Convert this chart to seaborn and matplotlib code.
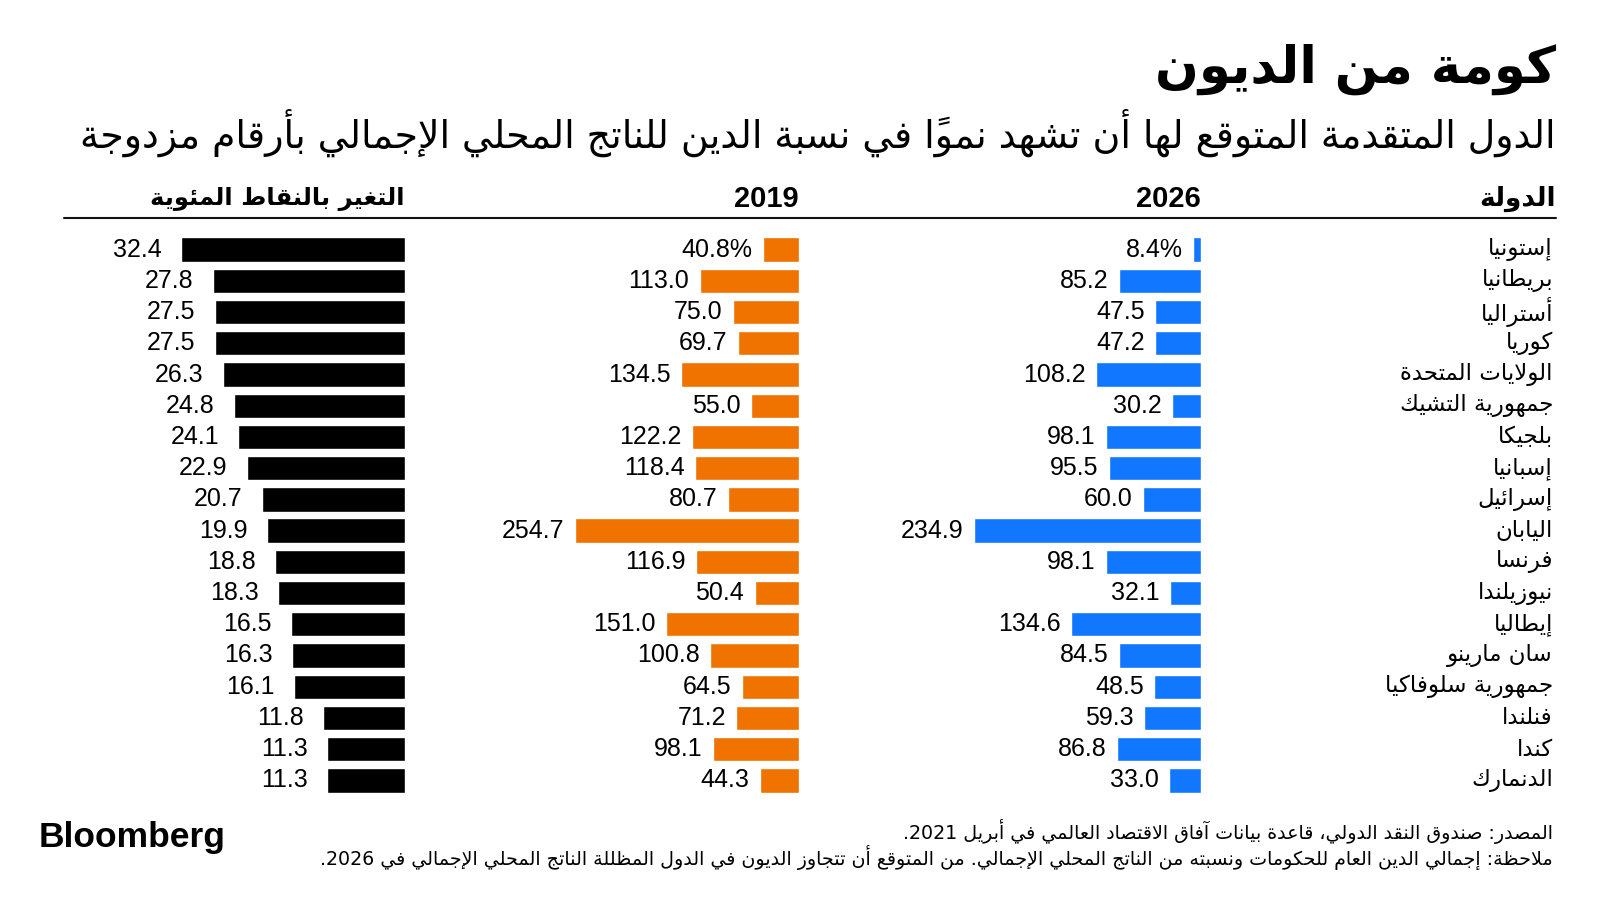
import re
import numpy as np
import pandas as pd
import seaborn as sns
import matplotlib.pyplot as plt
import matplotlib.transforms as mtransforms
from matplotlib.lines import Line2D

title = 'كومة من الديون'
subtitle = 'الدول المتقدمة المتوقع لها أن تشهد نمواً في نسبة الدين للناتج المحلي الإجمالي بأرقام مزدوجة'
headers = ['الدولة', '2026', '2019', 'التغير بالنقاط المئوية']
countries = ['إستونيا', 'بريطانيا', 'أستراليا', 'كوريا', 'الولايات المتحدة', 'جمهورية التشيك',
             'بلجيكا', 'إسبانيا', 'إسرائيل', 'اليابان', 'فرنسا', 'نيوزيلندا', 'إيطاليا',
             'سان مارينو', 'جمهورية سلوفاكيا', 'فنلندا', 'كندا', 'الدنمارك']
debt_2026 = [8.4, 85.2, 47.5, 47.2, 108.2, 30.2, 98.1, 95.5, 60.0, 234.9, 98.1, 32.1, 134.6, 84.5, 48.5, 59.3, 86.8, 33.0]
debt_2019 = [40.8, 113.0, 75.0, 69.7, 134.5, 55.0, 122.2, 118.4, 80.7, 254.7, 116.9, 50.4, 151.0, 100.8, 64.5, 71.2, 98.1, 44.3]
change = [32.4, 27.8, 27.5, 27.5, 26.3, 24.8, 24.1, 22.9, 20.7, 19.9, 18.8, 18.3, 16.5, 16.3, 16.1, 11.8, 11.3, 11.3]
source = 'المصدر: صندوق النقد الدولي، قاعدة بيانات آفاق الاقتصاد العالمي في أبريل 2021.'
note = 'ملاحظة: إجمالي الدين العام للحكومات ونسبته من الناتج المحلي الإجمالي. من المتوقع أن تتجاوز الديون في الدول المظللة الناتج المحلي الإجمالي في 2026.'

# --- minimal arabic shaping (matplotlib has no text shaping) ---
letters = [('ء', 0xFE80, 1), ('آ', 0xFE81, 2), ('أ', 0xFE83, 2), ('ؤ', 0xFE85, 2), ('إ', 0xFE87, 2),
           ('ئ', 0xFE89, 4), ('ا', 0xFE8D, 2), ('ب', 0xFE8F, 4), ('ة', 0xFE93, 2), ('ت', 0xFE95, 4),
           ('ث', 0xFE99, 4), ('ج', 0xFE9D, 4), ('ح', 0xFEA1, 4), ('خ', 0xFEA5, 4), ('د', 0xFEA9, 2),
           ('ذ', 0xFEAB, 2), ('ر', 0xFEAD, 2), ('ز', 0xFEAF, 2), ('س', 0xFEB1, 4), ('ش', 0xFEB5, 4),
           ('ص', 0xFEB9, 4), ('ض', 0xFEBD, 4), ('ط', 0xFEC1, 4), ('ظ', 0xFEC5, 4), ('ع', 0xFEC9, 4),
           ('غ', 0xFECD, 4), ('ف', 0xFED1, 4), ('ق', 0xFED5, 4), ('ك', 0xFED9, 4), ('ل', 0xFEDD, 4),
           ('م', 0xFEE1, 4), ('ن', 0xFEE5, 4), ('ه', 0xFEE9, 4), ('و', 0xFEED, 2), ('ى', 0xFEEF, 2),
           ('ي', 0xFEF1, 4)]
forms = {c: (b, n) for c, b, n in letters}
lam_alef = {'آ': 0xFEF5, 'أ': 0xFEF7, 'إ': 0xFEF9, 'ا': 0xFEFB}


def is_mark(u):
    return isinstance(u, str) and '\u064B' <= u <= '\u065F'


def ar(s):
    units = []
    i = 0
    while i < len(s):
        c = s[i]
        if c == 'ل' and i + 1 < len(s) and s[i + 1] in lam_alef:
            units.append((lam_alef[s[i + 1]], 2))
            i += 2
            continue
        units.append(forms.get(c, c))
        i += 1
    out = []
    for k, u in enumerate(units):
        if isinstance(u, str):
            out.append(u)
            continue
        base, nf = u
        p = k - 1
        while p >= 0 and is_mark(units[p]):
            p -= 1
        q = k + 1
        while q < len(units) and is_mark(units[q]):
            q += 1
        jp = nf >= 2 and p >= 0 and not isinstance(units[p], str) and units[p][1] == 4
        jn = nf == 4 and q < len(units) and not isinstance(units[q], str) and units[q][1] >= 2
        off = 3 if (jp and jn) else 1 if jp else 2 if jn else 0
        out.append(chr(base + off))
    tokens = re.findall(r'[0-9]+(?:[.,][0-9]+)*%?|.[\u064B-\u065F]*', ''.join(out))
    return ''.join(reversed(tokens))


df = pd.DataFrame({'country': countries, 'y2026': debt_2026, 'y2019': debt_2019, 'change': change})

sns.set_theme(style='white')
plt.rcParams['font.family'] = ['DejaVu Sans']
plt.rcParams['text.color'] = 'black'
W, H = 1600, 901
fig = plt.figure(figsize=(16, 9.01), dpi=100)
fig.patch.set_facecolor('white')

arfont = 'DejaVu Sans'
numfont = ['Liberation Sans', 'DejaVu Sans']


def fx(px):
    return px / W


def fy(py):
    return 1 - py / H


top_px, bot_px = 234, 796
# column, colour, right edge px, width px, label gap pt
cols = [('y2026', '#1177ff', 1201, 227, max(debt_2026), 7.5),
        ('y2019', '#f07300', 799, 224, max(debt_2019), 7.5),
        ('change', '#000000', 405, 224, max(change), 14)]

axes = []
for col, color, right, width, vmax, gap in cols:
    ax = fig.add_axes([fx(right - width), fy(bot_px), width / W, (bot_px - top_px) / H])
    sns.barplot(data=df, x=col, y='country', orient='h', color=color, saturation=1,
                width=0.78, ax=ax)
    ax.set_xlim(vmax, 0)
    ax.set_ylim(len(df) - 0.5, -0.5)
    ax.set_axis_off()
    for i, v in enumerate(df[col]):
        lab = f'{v:.1f}'
        if i == 0 and col != 'change':
            lab += '%'
        ax.annotate(lab, xy=(v, i), xytext=(-gap, 0), textcoords='offset points',
                    ha='right', va='center', fontsize=18, family=numfont, color='black',
                    annotation_clip=False)
    axes.append(ax)

# country names
tr = mtransforms.blended_transform_factory(fig.transFigure, axes[0].transData)
for i, c in enumerate(countries):
    axes[0].text(fx(1553), i, ar(c), transform=tr, ha='right', va='center',
                 fontsize=16.5, family=arfont, color='black')

# titles
fig.text(fx(1556), fy(69), ar(title), ha='right', va='center', fontsize=37,
         fontweight='bold', family=arfont)
fig.text(fx(1556), fy(133), ar(subtitle), ha='right', va='center', fontsize=27.3,
         family=arfont)

# column headers
fig.text(fx(1556), fy(199), ar(headers[0]), ha='right', va='center', fontsize=19,
         fontweight='bold', family=arfont)
fig.text(fx(1201), fy(199), headers[1], ha='right', va='center', fontsize=21,
         fontweight='bold', family=numfont)
fig.text(fx(799), fy(199), headers[2], ha='right', va='center', fontsize=21,
         fontweight='bold', family=numfont)
fig.text(fx(405), fy(199), ar(headers[3]), ha='right', va='center', fontsize=17.5,
         fontweight='bold', family=arfont)
fig.add_artist(Line2D([fx(64), fx(1556)], [fy(218), fy(218)], color='#111111', lw=1.5,
                      transform=fig.transFigure))

# footer
fig.text(fx(39), fy(837), 'Bloomberg', ha='left', va='center', fontsize=25.5,
         fontweight='bold', family=numfont)
fig.text(fx(1553), fy(832), ar(source), ha='right', va='center', fontsize=13.7, family=arfont)
fig.text(fx(1553), fy(857), ar(note), ha='right', va='center', fontsize=13.7, family=arfont)

fig.savefig('out.png', dpi=100, facecolor='white')
